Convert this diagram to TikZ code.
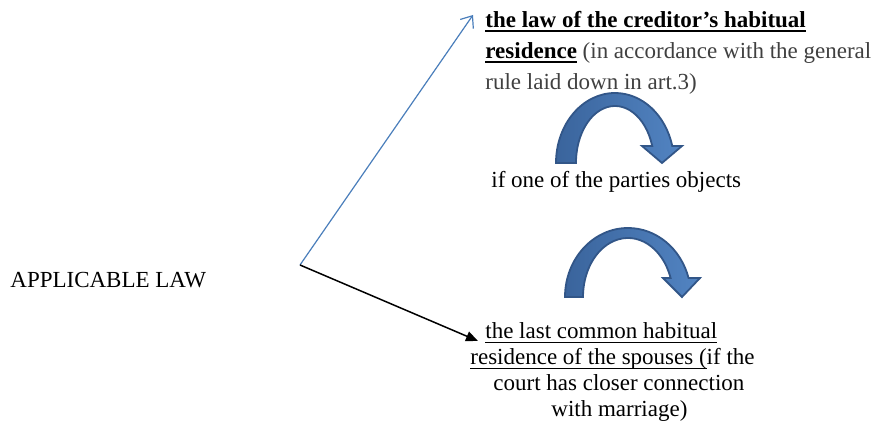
\documentclass[tikz,border=0pt]{standalone}
\usepackage{fontspec}
\setmainfont{Liberation Serif}
\usepackage{tikz}
\usetikzlibrary{arrows.meta}
\definecolor{linkblue}{RGB}{74,126,187}
\definecolor{notegray}{RGB}{64,64,64}
\definecolor{arrowdark}{RGB}{58,100,156}
\definecolor{arrowlight}{RGB}{82,132,194}
\definecolor{arrowedge}{RGB}{50,86,136}
% underline with a rule of given thickness just below the baseline
\newcommand{\ulrule}[2]{\setbox0\hbox{#2}\rlap{\rule[-1.9pt]{\wd0}{#1}}\box0\relax}
\newcommand{\boldul}[1]{\ulrule{0.9pt}{\textbf{#1}}}
\newcommand{\thinul}[1]{\ulrule{0.5pt}{#1}}
\tikzset{lbl/.style={inner sep=0pt, font=\fontsize{11.5}{15.5}\selectfont}}
\tikzset{bendarrow/.style={draw=arrowedge, line width=0.9pt, left color=arrowdark, right color=arrowlight}}

\begin{document}
\begin{tikzpicture}[x=0.5pt,y=0.5pt]
\useasboundingbox (0,0) rectangle (875,421);
% texts (base = baseline of the last line)
\node[lbl, anchor=base west] (applaw) at (10,133) {APPLICABLE LAW};
\node[lbl, align=left, anchor=base west] (credlaw) at (485,331)
  {\boldul{the law of the creditor’s habitual}\\
   \boldul{residence} \textcolor{notegray}{(in accordance with the general}\\
   \textcolor{notegray}{rule laid down in art.3)}};
\node[lbl, anchor=base west] (objects) at (491,233) {if one of the parties objects};
\node[lbl, font=\fontsize{11.5}{13}\selectfont, align=left, anchor=base west] (spouselaw) at (470,4)
  {\hspace*{7.5pt}\thinul{the last common habitual}\\
   \thinul{residence of the spouses (}if the\\
   \hspace*{11.5pt}court has closer connection\\
   \hspace*{40.5pt}with marriage)};
% the two branches
\coordinate (split) at (300,156);
\coordinate (uptip) at (473,406);
\coordinate (downtip) at (478,80);
\draw[linkblue, line width=0.6pt, -{Straight Barb[length=5pt,width=8pt]}] (split) -- (uptip);
\draw[black, line width=0.75pt, -{Triangle[length=6pt,width=5pt]}] (split) -- (downtip);
% bent arrows
\filldraw[bendarrow] (556,258) arc[start angle=180, end angle=14.05, x radius=59, y radius=70]
  -- (682,275) -- (662,258) -- (642,275) -- (652.2,275)
  arc[start angle=17.35, end angle=180, x radius=39, y radius=57] -- cycle;
\filldraw[bendarrow] (565,124) arc[start angle=180, end angle=15.98, x radius=63, y radius=69]
  -- (700,143) -- (682,124) -- (663,143) -- (670.6,143)
  arc[start angle=18.79, end angle=180, x radius=45, y radius=59] -- cycle;
\end{tikzpicture}
\end{document}
